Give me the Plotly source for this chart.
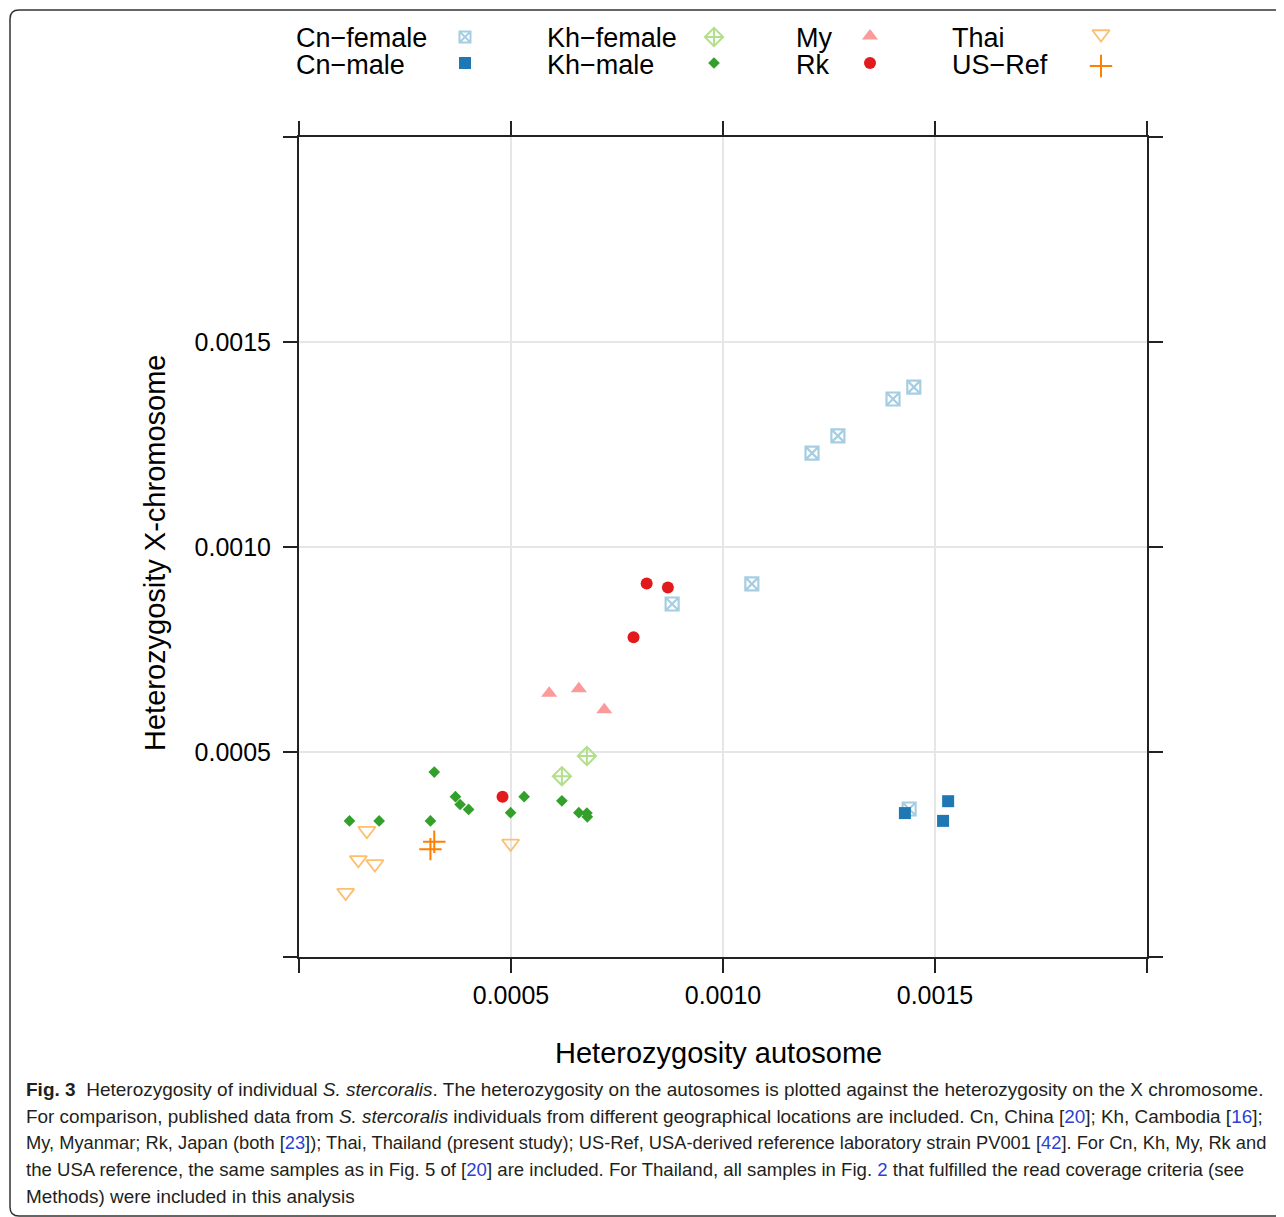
import plotly.graph_objects as go

# ---------------- data ----------------
cn_female_x = [0.001068, 0.000880, 0.001210, 0.001271, 0.001401, 0.001450, 0.001439]
cn_female_y = [0.000910, 0.000861, 0.001229, 0.001271, 0.001361, 0.001390, 0.000361]

cn_male_x = [0.001429, 0.001531, 0.001519]
cn_male_y = [0.000351, 0.000380, 0.000332]

kh_female_x = [0.000679, 0.000620]
kh_female_y = [0.000490, 0.000441]

kh_male_x = [0.000119, 0.000189, 0.000319, 0.000310, 0.000369, 0.000380, 0.000400,
             0.000499, 0.000531, 0.000620, 0.000660, 0.000679, 0.000680]
kh_male_y = [0.000332, 0.000332, 0.000451, 0.000332, 0.000391, 0.000372, 0.000360,
             0.000352, 0.000391, 0.000381, 0.000352, 0.000351, 0.000342]

my_x = [0.000590, 0.000660, 0.000720]
my_y = [0.000643, 0.000654, 0.000603]

rk_x = [0.000480, 0.000820, 0.000870, 0.000789]
rk_y = [0.000391, 0.000911, 0.000901, 0.000780]

thai_x = [0.000160, 0.000140, 0.000179, 0.000110, 0.000499]
thai_y = [0.000308, 0.000237, 0.000227, 0.000157, 0.000277]

usref_x = [0.000319, 0.000310]
usref_y = [0.000281, 0.000263]

tick_vals = [0, 0.0005, 0.0010, 0.0015, 0.0020]
tick_text = ["", "0.0005", "0.0010", "0.0015", ""]

# ---------------- styles ----------------
W, H = 1284, 1217
OFF = 8                                         # page body margin of the html page
PX_L, PX_R, PX_T, PX_B = 299, 1147, 137, 957   # plot box in screen pixels
BASE_FONT = "Liberation Sans, Arial, Helvetica, sans-serif"
CAP_FONT = "Liberation Sans, Arial, sans-serif"

groups = [
    ("Cn\u2212female", cn_female_x, cn_female_y,
     dict(symbol="square-x-open", size=13, color="#a6cee3", line=dict(color="#a6cee3", width=2.2))),
    ("Cn\u2212male", cn_male_x, cn_male_y,
     dict(symbol="square", size=12, color="#1f78b4", line=dict(width=0))),
    ("Kh\u2212female", kh_female_x, kh_female_y,
     dict(symbol="diamond-cross-open", size=14, color="#b2df8a", line=dict(color="#b2df8a", width=2))),
    ("Kh\u2212male", kh_male_x, kh_male_y,
     dict(symbol="diamond", size=9, color="#33a02c", line=dict(width=0))),
    ("My", my_x, my_y,
     dict(symbol="triangle-up", size=14, color="#fb9a99", line=dict(width=0))),
    ("Rk", rk_x, rk_y,
     dict(symbol="circle", size=12, color="#e31a1c", line=dict(width=0))),
    ("Thai", thai_x, thai_y,
     dict(symbol="triangle-down-open", size=15, color="#fdbf6f", line=dict(color="#fdbf6f", width=1.8))),
    ("US\u2212Ref", usref_x, usref_y,
     dict(symbol="cross-thin-open", size=16, color="#ff7f00", line=dict(color="#ff7f00", width=2))),
]

fig = go.Figure()
for name, xs, ys, mk in groups:
    fig.add_trace(go.Scatter(x=xs, y=ys, mode="markers", name=name, marker=mk,
                             xaxis="x", yaxis="y", showlegend=False, hoverinfo="x+y+name"))

# legend key (lattice style: text left, symbol right), on pixel overlay axes
key_text_x = [294, 294, 545, 545, 794, 794, 950, 950]
key_text_y = [38, 65, 38, 65, 38, 65, 38, 65]
key_sym_x = [465, 465, 714, 714, 870, 870, 1101, 1101]
key_sym_y = [37, 63, 37, 63, 36, 63, 34, 66]
for i, (name, xs, ys, mk) in enumerate(groups):
    mk2 = dict(mk)
    if i == 0:
        mk2["size"] = 11
        mk2["line"] = dict(color="#a6cee3", width=2)
    fig.add_trace(go.Scatter(x=[key_sym_x[i]], y=[key_sym_y[i]], mode="markers", marker=mk2,
                             xaxis="x2", yaxis="y2", showlegend=False, hoverinfo="skip"))

annotations = []
for i, (name, xs, ys, mk) in enumerate(groups):
    annotations.append(dict(x=key_text_x[i], y=key_text_y[i], xref="x2", yref="y2", text=name,
                            showarrow=False, xanchor="left", yanchor="middle",
                            font=dict(family=BASE_FONT, size=27, color="#000")))

# axis titles
annotations.append(dict(x=718, y=1053, xref="x2", yref="y2", text="Heterozygosity autosome",
                        showarrow=False, xanchor="center", yanchor="middle",
                        font=dict(family=BASE_FONT, size=29, color="#000")))
annotations.append(dict(x=155, y=553, xref="x2", yref="y2", text="Heterozygosity X-chromosome",
                        showarrow=False, xanchor="center", yanchor="middle", textangle=-90,
                        font=dict(family=BASE_FONT, size=29, color="#000")))

# caption
blue = lambda s: '<span style="color:#2b3fd6">' + s + '</span>'
caption_lines = [
    "<b>Fig. 3</b>  Heterozygosity of individual <i>S. stercoralis</i>. The heterozygosity on the autosomes is plotted against the heterozygosity on the X chromosome.",
    "For comparison, published data from <i>S. stercoralis</i> individuals from different geographical locations are included. Cn, China [" + blue("20") + "]; Kh, Cambodia [" + blue("16") + "];",
    "My, Myanmar; Rk, Japan (both [" + blue("23") + "]); Thai, Thailand (present study); US-Ref, USA-derived reference laboratory strain PV001 [" + blue("42") + "]. For Cn, Kh, My, Rk and",
    "the USA reference, the same samples as in Fig. 5 of [" + blue("20") + "] are included. For Thailand, all samples in Fig. " + blue("2") + " that fulfilled the read coverage criteria (see",
    "Methods) were included in this analysis",
]
caption_y = [1089, 1116, 1142, 1169, 1196]
caption_size = [19.0, 18.9, 18.3, 18.6, 18.9]
for line, cy, cs in zip(caption_lines, caption_y, caption_size):
    annotations.append(dict(x=24, y=cy, xref="x2", yref="y2", text=line, showarrow=False,
                            xanchor="left", yanchor="middle",
                            font=dict(family=CAP_FONT, size=cs, color="#231f20")))

axis_common = dict(
    range=[0, 0.002], tickvals=tick_vals, ticktext=tick_text,
    showline=True, linecolor="#222", linewidth=2, mirror="ticks",
    ticks="outside", ticklen=14, tickwidth=2, tickcolor="#222",
    showgrid=True, gridcolor="#e6e6e6", gridwidth=2, zeroline=False,
    tickfont=dict(family=BASE_FONT, size=25, color="#000"),
)

fig.update_layout(
    width=W, height=H,
    margin=dict(l=0, r=0, t=0, b=0),
    paper_bgcolor="white", plot_bgcolor="rgba(0,0,0,0)",
    xaxis=dict(domain=[(PX_L - OFF) / W, (PX_R - OFF) / W], anchor="y", ticklabelstandoff=1, **axis_common),
    yaxis=dict(domain=[(H + OFF - PX_B) / H, (H + OFF - PX_T) / H], anchor="x", ticklabelstandoff=7, **axis_common),
    xaxis2=dict(domain=[0, 1], range=[OFF, W + OFF], anchor="y2", visible=False, fixedrange=True),
    yaxis2=dict(domain=[0, 1], range=[H + OFF, OFF], anchor="x2", visible=False, fixedrange=True),
    annotations=annotations,
    shapes=[dict(type="path", xref="x2", yref="y2",
                 path="M 1300 10 L 19 10 Q 10 10 10 19 L 10 1207 Q 10 1216 19 1216 L 1300 1216",
                 line=dict(color="#333", width=1.5), layer="below")],
    showlegend=False,
)

fig.write_html("out.html")
